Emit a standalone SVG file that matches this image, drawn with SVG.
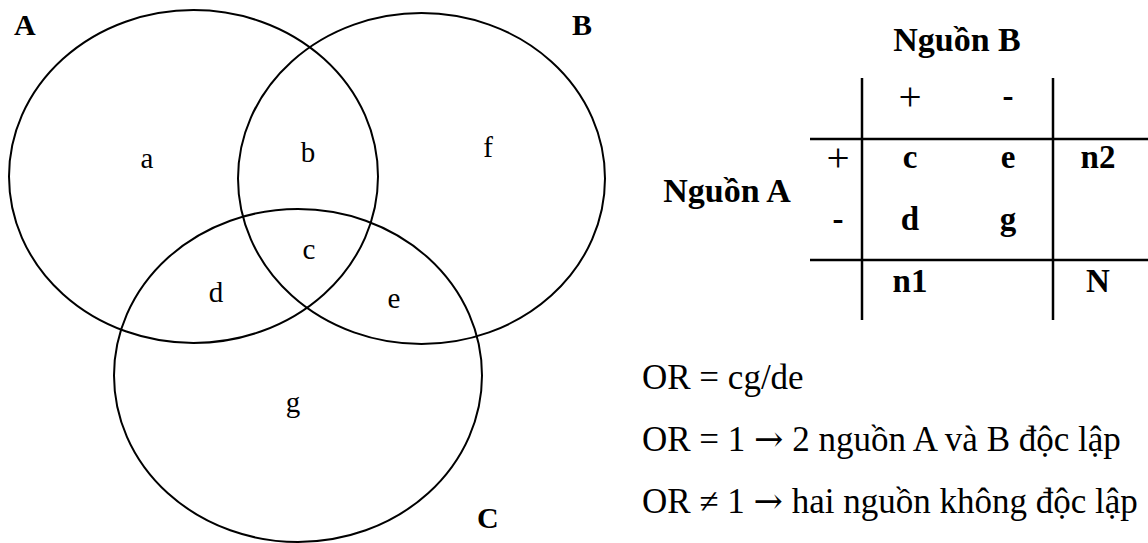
<svg xmlns="http://www.w3.org/2000/svg" width="1148" height="543" viewBox="0 0 1148 543">
<style>
.c{fill:none;stroke:#000;stroke-width:2}
.t{font-family:"Liberation Serif","Times New Roman",serif;fill:#000}
.lbl{font-size:29px;text-anchor:middle}
.b{font-weight:bold}
.tl{stroke:#000;stroke-width:2.5}
.tb{font-size:33px;font-weight:bold;text-anchor:middle}
.pl{font-size:41px;font-weight:normal}
.f{font-size:35px}
.ar{font-family:"DejaVu Serif",serif;font-size:35px}
</style>
<rect width="1148" height="543" fill="#fff"/>
<g id="venn">
<g id="setA"><ellipse class="c" cx="193.5" cy="176.5" rx="184.5" ry="166.5"/><text class="t b" x="14" y="35" font-size="30">A</text></g>
<g id="setB"><ellipse class="c" cx="421.5" cy="178.5" rx="183.5" ry="165.5"/><text class="t b" x="572" y="35" font-size="30">B</text></g>
<g id="setC"><ellipse class="c" cx="298" cy="375.5" rx="184" ry="166.5"/><text class="t b" x="477" y="528" font-size="30">C</text></g>
<g id="regions" class="t lbl">
<text x="147" y="168">a</text>
<text x="308" y="162">b</text>
<text x="488" y="157">f</text>
<text x="309" y="259">c</text>
<text x="216" y="302">d</text>
<text x="394" y="308">e</text>
<text x="293" y="412">g</text>
</g>
</g>
<g id="table">
<text class="t b" x="957" y="51" font-size="34" text-anchor="middle">Nguồn B</text>
<text class="t b" x="727" y="202" font-size="34" text-anchor="middle">Nguồn A</text>
<line class="tl" x1="862" y1="78" x2="862" y2="320"/>
<line class="tl" x1="1053" y1="78" x2="1053" y2="320"/>
<line class="tl" x1="810" y1="139" x2="1148" y2="139"/>
<line class="tl" x1="810" y1="260" x2="1148" y2="260"/>
<g class="t tb">
<text class="pl" x="910" y="110">+</text>
<text x="1008" y="107">-</text>
<text class="pl" x="838" y="171">+</text>
<text x="910" y="168">c</text>
<text x="1008" y="168">e</text>
<text x="1098" y="168">n2</text>
<text x="838" y="230">-</text>
<text x="910" y="230">d</text>
<text x="1008" y="230">g</text>
<text x="910" y="292">n1</text>
<text x="1098" y="292">N</text>
</g>
</g>
<g id="notes" class="t f">
<text x="642" y="389">OR = cg/de</text>
<text x="642" y="451">OR = 1 <tspan class="ar">→</tspan> 2 nguồn A và B độc lập</text>
<text x="642" y="513">OR ≠ 1 <tspan class="ar">→</tspan> hai nguồn không độc lập</text>
</g>
</svg>
